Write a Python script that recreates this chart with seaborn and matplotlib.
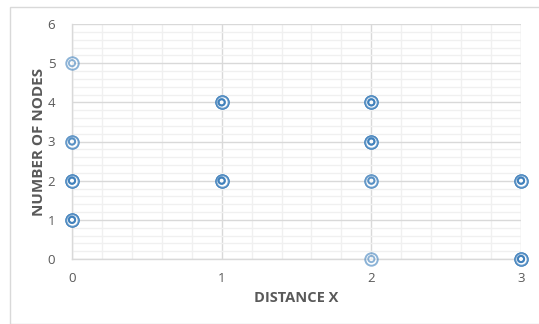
import pandas as pd
import matplotlib.pyplot as plt
import seaborn as sns
from matplotlib.ticker import MultipleLocator
from matplotlib.patches import Rectangle

# Data (repeated points = overlapping observations)
distance = [0, 0, 0, 0, 0, 0, 0, 0, 0,
            1, 1, 1, 1, 1, 1,
            2, 2, 2, 2, 2, 2, 2, 2, 2,
            3, 3, 3, 3, 3, 3]
nodes = [5, 3, 3, 2, 2, 2, 1, 1, 1,
         4, 4, 4, 2, 2, 2,
         4, 4, 4, 3, 3, 3, 2, 2, 0,
         2, 2, 2, 0, 0, 0]

df = pd.DataFrame({"Distance": distance, "Nodes": nodes})

sns.set_style("white")
plt.rcParams['font.family'] = ['Open Sans', 'DejaVu Sans']

fig = plt.figure(figsize=(5.39, 3.24), dpi=100)
ax = fig.add_axes([72 / 539, 1 - 259 / 324, (521 - 72) / 539, (259 - 24) / 324])

blue = '#2e75b6'
# outer ring
sns.scatterplot(x="Distance", y="Nodes", data=df, ax=ax, s=80, marker='o',
                facecolor='white', edgecolor=blue, linewidth=1.4, alpha=0.55,
                zorder=3, clip_on=False)
# inner ring
sns.scatterplot(x="Distance", y="Nodes", data=df, ax=ax, s=20, marker='o',
                facecolor='none', edgecolor=blue, linewidth=1.4, alpha=0.55,
                zorder=4, clip_on=False)

ax.set_xlim(0, 3)
ax.set_ylim(0, 6)
ax.xaxis.set_major_locator(MultipleLocator(1))
ax.yaxis.set_major_locator(MultipleLocator(1))
ax.xaxis.set_minor_locator(MultipleLocator(0.2))
ax.yaxis.set_minor_locator(MultipleLocator(0.2))
ax.grid(which='minor', color='#f0f0f0', linewidth=1.0)
ax.grid(which='major', color='#d9d9d9', linewidth=1.0)
ax.set_axisbelow(True)

for side in ['top', 'right']:
    ax.spines[side].set_visible(False)
for side in ['left', 'bottom']:
    ax.spines[side].set_color('#d9d9d9')
    ax.spines[side].set_linewidth(1.0)

ax.tick_params(axis='both', which='both', length=0, labelsize=9.5, colors='#595959')
ax.tick_params(axis='x', pad=9)
ax.tick_params(axis='y', pad=12)

ax.set_xlabel("DISTANCE X", fontsize=10.5, fontweight='bold', color='#595959', labelpad=5)
ax.set_ylabel("NUMBER OF NODES", fontsize=11, fontweight='bold', color='#595959', labelpad=1)

# chart area border
fig.patches.append(Rectangle((10 / 539, 0), 540 / 539, 1 - 7 / 324, transform=fig.transFigure,
                             fill=False, edgecolor='#d9d9d9', linewidth=1.0))

plt.savefig("out.png", dpi=100)
